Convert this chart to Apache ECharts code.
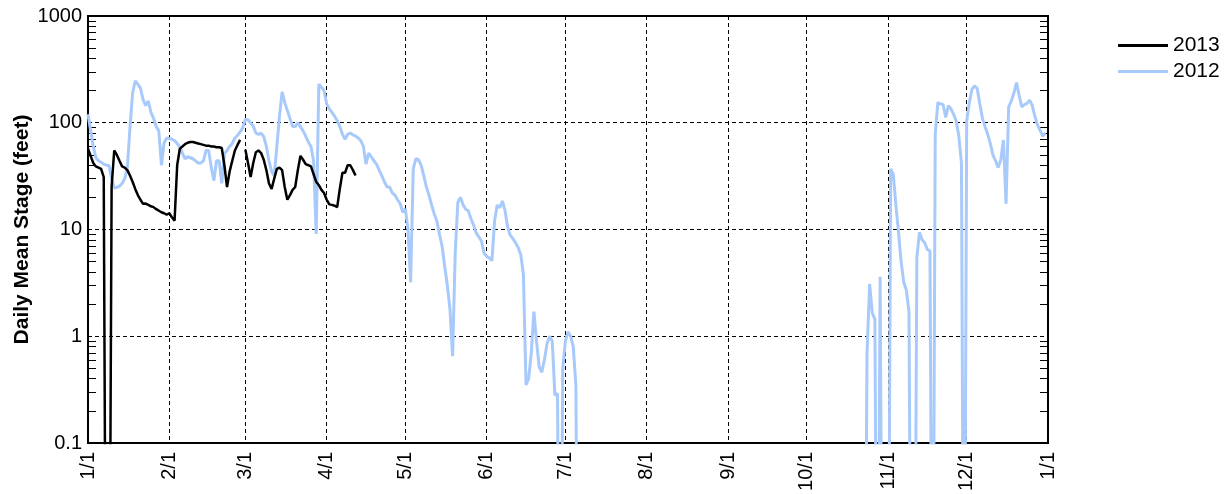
<!DOCTYPE html>
<html>
<head>
<meta charset="utf-8">
<title>Daily Mean Stage</title>
<script src="https://cdn.jsdelivr.net/npm/echarts/dist/echarts.min.js"></script>
<style>
    html, body {margin: 0; padding: 0; background: #fff;}
    .chart {width: 1226px; height: 494px;}
</style>
</head>
<body>
<div class="chart"></div>
<script>
// month starts as day of year (2012 is a leap year)
var monthDays = [0, 31, 60, 91, 121, 152, 182, 213, 244, 274, 305, 335, 366];
var monthLabels = ["1/1", "2/1", "3/1", "4/1", "5/1", "6/1", "7/1", "8/1", "9/1", "10/1", "11/1", "12/1", "1/1"];
var yTicks = [0.1, 1, 10, 100, 1000];
var yMinorTicks = [0.2, 0.3, 0.4, 0.5, 0.6, 0.7, 0.8, 0.9,
    2, 3, 4, 5, 6, 7, 8, 9,
    20, 30, 40, 50, 60, 70, 80, 90,
    200, 300, 400, 500, 600, 700, 800, 900];

// 2013, from 1/1 (day 0); 0 = no flow, null = no 2/29
var stage2013 = [
    57, 49, 42, 39, 38, 37, 31, 0, 0, 25,
    55, 50, 44, 39, 38, 36, 32, 28, 24, 21,
    19, 17.4, 17.5, 17, 16.5, 16.2, 15.5, 15, 14.5, 14.2,
    13.8, 14.2, 13, 12.1, 40, 57, 60, 63, 65, 66,
    66, 65, 64, 63, 62, 61, 61, 60, 60, 59,
    59, 58, 40, 25, 35, 44, 55, 62, 69, null,
    56, 42, 31, 42, 53, 55, 52, 45, 36, 27,
    24, 30, 37, 38, 36, 25, 19, 21, 23.5, 25,
    36, 49, 45, 41, 40, 39, 33, 28, 26, 23.5,
    22, 19, 17.2, 17, 16.7, 16.2, 24, 34, 34, 40,
    40, 36, 32
];

// 2012, 1/1 .. 7/6 (day 0..187)
var stage2012a = [
    120, 85, 60, 47, 44, 42.6, 41, 40, 39.8, 30,
    24.5, 24.8, 25.5, 27, 30, 38, 90, 190, 247, 230,
    210, 165, 145, 160, 125, 110, 92, 84, 40, 65,
    72, 71, 70, 68, 64, 59, 52, 46, 48, 47,
    46, 44, 42, 42, 44, 55, 55, 38, 28.7, 44,
    44, 27, 51, 55, 60, 64, 72, 76, 82, 90,
    108, 106, 100, 93, 80, 78, 80, 74, 60, 44,
    35, 32, 60, 115, 195, 155, 130, 110, 92, 92,
    100, 92, 84, 75, 66, 60, 44, 9.1, 230, 215,
    200, 150, 135, 125, 115, 105, 92, 78, 70, 78,
    80, 77, 75, 72, 68, 60, 41, 52, 48, 44,
    41, 36, 32, 28, 25, 25, 22, 21, 19, 17.5,
    14.5, 15.6, 10, 3.2, 37, 46, 45, 40, 32, 25,
    21, 17, 14, 12, 9, 7, 4.5, 3, 1.8, 0.65,
    6, 18, 20, 17, 15.5, 15, 12.6, 11, 9.3, 8.5,
    7.8, 6, 5.6, 5.4, 5.1, 12, 17, 16, 18.5, 15,
    10.5, 8.8, 8.2, 7.5, 6.8, 5.8, 3.8, 0.35, 0.4, 0.7,
    1.7, 0.9, 0.52, 0.46, 0.6, 0.85, 1.0, 0.9, 0.28, 0.29,
    0, 0.5, 0.9, 1.1, 1.0, 0.8, 0.35, 0
];
// 2012, 10/23 .. 12/31 (day 296..365)
var start2012b = 296;
var stage2012b = [
    0, 0.7, 3.1, 1.65, 1.45, 0, 3.6, 0, 0, 0,
    37, 33, 17, 9.5, 5, 3.2, 2.7, 1.7, 0, 0,
    5.5, 9.4, 8, 7.5, 6.5, 6.3, 0, 78, 155, 150,
    148, 112, 144, 135, 120, 104, 75, 42, 0, 104,
    155, 205, 222, 210, 150, 110, 92, 78, 64, 50,
    44, 38, 45, 69, 17.4, 140, 160, 190, 238, 180,
    141, 148, 152, 163, 145, 115, 95, 85, 75, 80
];

var font = "Liberation Sans";

// 0 can't sit on a log axis: push it far below 0.1 so the grid clips it
function toPoints(values, start) {
    return values.map(function (v, i) {
        return [start + i, v === 0 ? 0.0001 : v];
    });
}

(function () {
    var myChart = echarts.init(document.querySelector(".chart"));
    var data2012 = toPoints(stage2012a, 0)
        .concat([[240, null]])
        .concat(toPoints(stage2012b, start2012b));
    var data2013 = toPoints(stage2013, 0);

    // minor tick axes: plain value axis in decades (log10), ticks only
    var minorAxis = function (pos) {
        return {
            type: "value",
            position: pos,
            min: Math.log10(yTicks[0]),
            max: Math.log10(yTicks[yTicks.length - 1]),
            axisLine: {show: false},
            axisLabel: {show: false},
            splitLine: {show: false},
            axisTick: {
                show: true,
                inside: true,
                length: 8,
                customValues: yMinorTicks.map(Math.log10),
                lineStyle: {color: "#000", width: 1}
            }
        };
    };

    var option = {
        animation: false,
        textStyle: {fontFamily: font},
        grid: {
            left: 88,
            right: 178,
            top: 16,
            bottom: 51,
            outerBoundsMode: "none",
            show: true,
            borderColor: "#000",
            borderWidth: 2
        },
        legend: {
            orient: "vertical",
            left: 1113,
            top: 30,
            icon: "rect",
            itemWidth: 50,
            itemHeight: 3,
            itemGap: 5,
            data: ["2013", "2012"],
            textStyle: {color: "#000", fontSize: 21, fontFamily: font}
        },
        xAxis: {
            type: "value",
            min: 0,
            max: 366,
            axisLine: {onZero: false, lineStyle: {color: "#000", width: 2}},
            axisTick: {show: false, customValues: monthDays},
            axisLabel: {
                customValues: monthDays,
                rotate: 90,
                margin: 9,
                color: "#000",
                fontSize: 20,
                fontFamily: font,
                formatter: function (v) {
                    return monthLabels[monthDays.indexOf(v)];
                }
            },
            splitLine: {
                show: true,
                lineStyle: {color: "#000", type: [4, 3], width: 1}
            }
        },
        yAxis: [
            {
                type: "log",
                min: 0.1,
                max: 1000,
                name: "Daily Mean Stage (feet)",
                nameLocation: "middle",
                nameGap: 55,
                nameMoveOverlap: false,
                nameTextStyle: {color: "#000", fontSize: 21, fontWeight: "bold", fontFamily: font},
                axisLine: {show: true, onZero: false, lineStyle: {color: "#000", width: 2}},
                axisTick: {show: false},
                axisLabel: {
                    color: "#000",
                    fontSize: 20,
                    margin: 6,
                    fontFamily: font,
                    formatter: function (v) {
                        return String(v);
                    }
                },
                splitLine: {
                    show: true,
                    lineStyle: {color: "#000", type: [4, 3], width: 1}
                }
            },
            minorAxis("left"),
            minorAxis("right")
        ],
        series: [
            {
                name: "2012",
                type: "line",
                data: data2012,
                symbol: "none",
                clip: true,
                connectNulls: false,
                lineStyle: {color: "#a8cafb", width: 3},
                itemStyle: {color: "#a8cafb"}
            },
            {
                name: "2013",
                type: "line",
                data: data2013,
                symbol: "none",
                clip: true,
                connectNulls: false,
                lineStyle: {color: "#000", width: 2.5},
                itemStyle: {color: "#000"}
            }
        ]
    };
    myChart.setOption(option);
})();
</script>
</body>
</html>
